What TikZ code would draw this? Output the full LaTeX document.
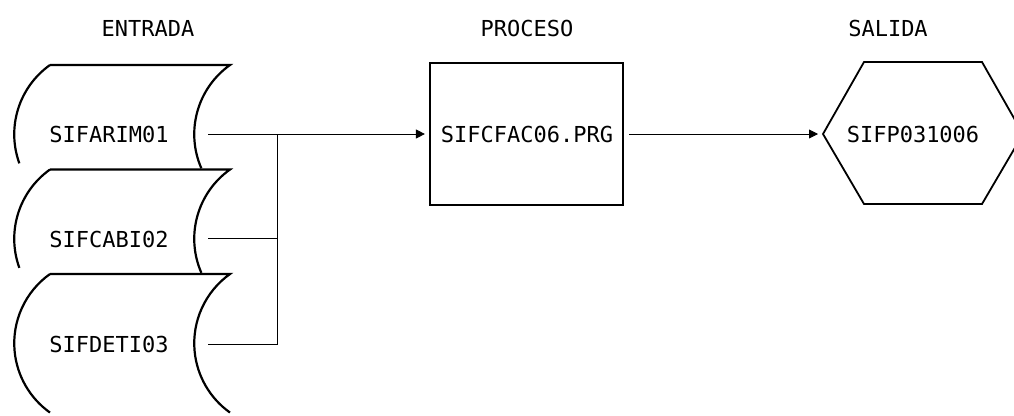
\documentclass[tikz,border=0pt]{standalone}
\usepackage{fontspec}
\newfontfamily\diagfont{DejaVu Sans Mono}
\usetikzlibrary{arrows.meta}
\tikzset{
  lbl/.style={font=\diagfont\fontsize{22}{22}\selectfont, inner sep=0pt},
  shapeline/.style={line width=2.2pt, line join=miter},
  conn/.style={line width=0.9pt},
  arr/.style={conn, -{Triangle[length=9pt,width=9pt]}},
}
\begin{document}
\begin{tikzpicture}[x=1pt,y=-1pt]
\useasboundingbox (0,0) rectangle (1014,415);
% headers
\node[lbl] (hin) at (148,28) {ENTRADA};
\node[lbl] (hpr) at (527,28) {PROCESO};
\node[lbl] (hout) at (888,28) {SALIDA};
% storage shape 1
\draw[shapeline] (50,65) arc[start angle=234.6, end angle=160, radius=85];
\draw[shapeline] (50,65) -- (230,65) arc[start angle=234.6, end angle=156.4, radius=85];
% storage shape 2
\draw[shapeline] (50,169.5) arc[start angle=234.6, end angle=160, radius=85];
\draw[shapeline] (50,169.5) -- (230,169.5) arc[start angle=234.6, end angle=156.4, radius=85];
% storage shape 3
\draw[shapeline] (50,274) arc[start angle=234.6, end angle=125.4, radius=85];
\draw[shapeline] (50,274) -- (230,274) arc[start angle=234.6, end angle=125.4, radius=85];
\node[lbl] (s1) at (109,134) {SIFARIM01};
\node[lbl] (s2) at (109,239) {SIFCABI02};
\node[lbl] (s3) at (109,344) {SIFDETI03};
\coordinate (c1) at (208,134);
\coordinate (c2) at (208,238);
\coordinate (c3) at (208,344);
\coordinate (j) at (277,134);
% process box
\node[draw, line width=2.2pt, minimum width=193pt, minimum height=142pt, inner sep=0pt] (box) at (526.5,134) {};
\node[lbl] (p) at (527,134) {SIFCFAC06.PRG};
% output hexagon
\draw[line width=1.8pt, line join=miter] (823,134) coordinate (hx) -- (864,62) -- (982,62) -- (1023,134) -- (982,204) -- (864,204) -- cycle;
\node[lbl] (o) at (913,134) {SIFP031006};
% connectors
\draw[arr, shorten >=4pt] (c1) -- (box.west);
\draw[conn] (c2) -| (j);
\draw[conn] (c3) -| (j);
\draw[arr, shorten <=5pt, shorten >=5pt] (box.east) -- (hx);
\end{tikzpicture}
\end{document}
